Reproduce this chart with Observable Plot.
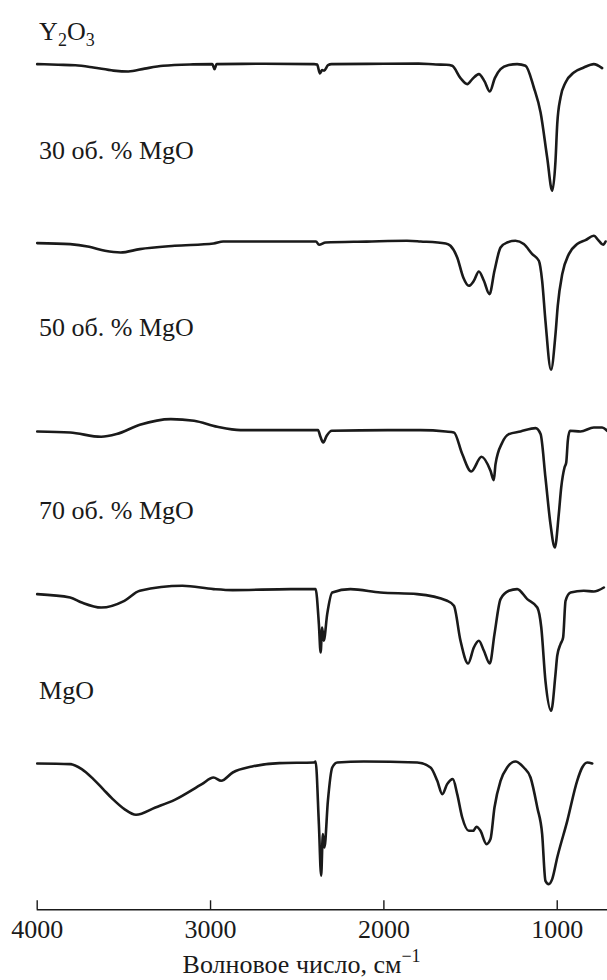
<!DOCTYPE html>
<html><head><meta charset="utf-8">
<script src="https://cdn.jsdelivr.net/npm/d3@7"></script>
<script src="https://cdn.jsdelivr.net/npm/@observablehq/plot@0.6"></script>
<style>html,body{margin:0;padding:0;background:#fff}#chart svg{display:block}#chart text{font-family:"Liberation Serif","Times New Roman",serif}</style>
</head><body><div id="chart"></div>
<script>
// Series names (top to bottom)
const seriesNames = ["Y2O3", "30 об. % MgO", "50 об. % MgO", "70 об. % MgO", "MgO"];
// Vertical stacking offsets (a.u.)
const offsets = [845.7, 667, 479, 320, 148];
// Spectra: [wavenumber cm-1, relative transmittance a.u.]
const y2o3 = [[4000,0],[3880,-0.6],[3780,-1.2],[3676,-3.4],[3560,-6.5],[3474,-7.4],[3380,-4.5],[3274,-1.7],[3100,-0.3],[2990,0],[2977,-5],[2965,0],[2700,0.3],[2403,0],[2385,-0.5],[2369,-9.4],[2356,-6],[2345,-6.5],[2322,-1],[2302,0],[2000,0.3],[1800,0.5],[1700,-0.4],[1640,-0.6],[1606,-1.7],[1558,-14],[1519,-20],[1490,-15],[1452,-10],[1420,-17],[1389,-27.4],[1360,-14],[1327,-5],[1280,-1],[1231,0],[1183,-1.7],[1135,-23.4],[1096,-48.4],[1058,-93.4],[1029,-126.7],[1010,-96.7],[1000,-60],[981,-33.4],[952,-18.4],[904,-8.4],[847,-3.4],[789,0],[741,-4]];
const mgo30 = [[4000,-0.3],[3810,-1.3],[3700,-4],[3609,-8],[3519,-9.7],[3408,-6.3],[3207,-3],[2983,-0.7],[2927,1.3],[2648,1.3],[2392,1.3],[2374,-2],[2336,0.3],[2100,1.2],[1867,2],[1788,1.3],[1643,-0.7],[1616,-3],[1577,-14.7],[1542,-34.7],[1510,-43],[1481,-38],[1452,-28.7],[1423,-38],[1391,-51.3],[1362,-28],[1327,-4.7],[1289,0.3],[1241,2],[1193,-1.3],[1144,-11.3],[1106,-18],[1087,-38],[1068,-78],[1036,-127],[1010,-91.3],[997,-63],[971,-31.3],[933,-11.3],[885,-1.3],[837,2.7],[789,7],[760,2],[735,-2],[721,1.3]];
const mgo50 = [[4000,-0.7],[3810,-1.7],[3631,-6],[3542,-3.3],[3408,6],[3229,11.7],[3095,10],[2961,4],[2827,0.7],[2600,0.7],[2380,0.7],[2366,-6],[2350,-11.7],[2330,-5],[2300,0],[1979,0.7],[1788,0.7],[1643,-0.7],[1596,-1.7],[1548,-23.3],[1496,-40.7],[1437,-26],[1385,-40],[1366,-49.3],[1356,-33.3],[1317,-11.7],[1279,-3.3],[1212,-0.7],[1125,2.7],[1096,-3.3],[1068,-46.7],[1039,-93.3],[1014,-116.7],[991,-83.3],[977,-56.7],[958,-36.7],[948,-31.7],[939,-10],[927,0],[866,-0.7],[789,3.3],[741,3.3],[712,0]];
const mgo70 = [[4000,-4.3],[3810,-7.7],[3743,-12.7],[3631,-17.7],[3497,-11],[3408,-1],[3162,4],[2983,0.7],[2872,-0.3],[2538,0.7],[2394,0.7],[2375,-34.3],[2365,-62.7],[2356,-37.7],[2347,-51],[2327,-24.3],[2298,-2.7],[2193,0.7],[2020,-2.7],[1808,-4.3],[1635,-11],[1596,-16],[1558,-51],[1514,-73.7],[1481,-57.7],[1452,-51],[1423,-61],[1389,-73.7],[1362,-44.3],[1327,-9.3],[1279,-1],[1231,0.7],[1173,-9.3],[1115,-17.7],[1092,-37.7],[1068,-91],[1035,-121],[1010,-84.3],[1000,-66],[981,-54.3],[966,-47.7],[952,-11],[923,-2.7],[847,-1],[789,-1.7],[731,2.3]];
const mgo = [[4000,-1.7],[3810,-2.3],[3743,-7.3],[3676,-17.3],[3620,-27.3],[3564,-37.3],[3497,-47.3],[3430,-53],[3318,-45.7],[3207,-38],[3050,-22.3],[2983,-15.7],[2939,-19],[2872,-10.7],[2760,-4.7],[2603,-1.3],[2403,-0.7],[2394,0.3],[2375,-62.3],[2362,-114],[2352,-72.3],[2343,-85.7],[2323,-39],[2298,-5.7],[2269,-0.7],[2116,0.3],[1808,-0.7],[1731,-5.7],[1692,-19],[1663,-32.3],[1635,-22.3],[1602,-17.3],[1577,-32.3],[1548,-55.7],[1510,-69],[1485,-69],[1466,-65],[1443,-69],[1408,-82.3],[1385,-77.3],[1362,-45.7],[1327,-19],[1289,-5.7],[1241,0.3],[1193,-5.7],[1154,-15.7],[1115,-45.7],[1087,-72.3],[1068,-119],[1049,-122.3],[1029,-117.3],[1000,-95.7],[942,-59],[885,-19],[856,-5.7],[827,-0.7],[798,-1.7]];
const spectra = [y2o3, mgo30, mgo50, mgo70, mgo];
// Axis
const xTicks = [4000, 3000, 2000, 1000];
const xTitle = "Волновое число, см";
const xTitleSup = "−1";

const FONT = "Liberation Serif";
const FS = 26;
const rows = spectra.flatMap((s, i) => s.map(([wn, t]) => ({series: seriesNames[i], wn, t: t + offsets[i]})));
const labelRows = seriesNames.map((name, i) => ({name, i}));
// label baselines, placed relative to the stacked traces
const labelPos = [offsets[0] + 24.3, offsets[0] - 94.7, offsets[1] - 92.7, offsets[2] - 88, offsets[3] - 109];

const chart = Plot.plot({
  width: 607, height: 980,
  marginLeft: 36.7, marginRight: 0, marginTop: 0, marginBottom: 70.7,
  style: {fontFamily: FONT, fontSize: FS + "px", color: "#1a1a1a", background: "#fff"},
  x: {domain: [4000, 710], label: null},
  y: {domain: [0, 909.3], axis: null},
  marks: [
    Plot.ruleY([0], {stroke: "#1a1a1a", strokeWidth: 1.4}),
    Plot.axisX({ticks: xTicks, tickSize: -9, tickPadding: 19, tickFormat: d => String(d), fontSize: FS, fontFamily: FONT, stroke: "#1a1a1a", strokeWidth: 1.4}),
    Plot.line(rows, {x: "wn", y: "t", z: "series", stroke: "#1a1a1a", strokeWidth: 2.6, strokeLinejoin: "round", curve: "monotone-x"}),
    Plot.text(labelRows, {x: 3989, y: d => labelPos[d.i], text: "name", textAnchor: "start", lineAnchor: "bottom", fontSize: FS, fontFamily: FONT, fill: "#1a1a1a"}),
    Plot.text([xTitle], {x: 2475, y: -62.7, text: d => d, textAnchor: "middle", lineAnchor: "bottom", fontSize: FS, fontFamily: FONT, fill: "#1a1a1a"})
  ]
});
document.getElementById("chart").appendChild(chart);

// Sub/superscripts as real text
d3.select(chart).selectAll("text").each(function() {
  const el = d3.select(this);
  const txt = this.textContent;
  if (txt === "Y2O3") {
    el.text(null);
    el.append("tspan").text("Y");
    el.append("tspan").attr("dy", 6).attr("font-size", "18px").text("2");
    el.append("tspan").attr("dy", -6).text("O");
    el.append("tspan").attr("dy", 6).attr("font-size", "18px").text("3");
  } else if (txt === xTitle) {
    el.text(null);
    el.append("tspan").text(xTitle);
    el.append("tspan").attr("dy", -11).attr("font-size", "18px").text(xTitleSup);
  }
});
</script>
</body></html>
